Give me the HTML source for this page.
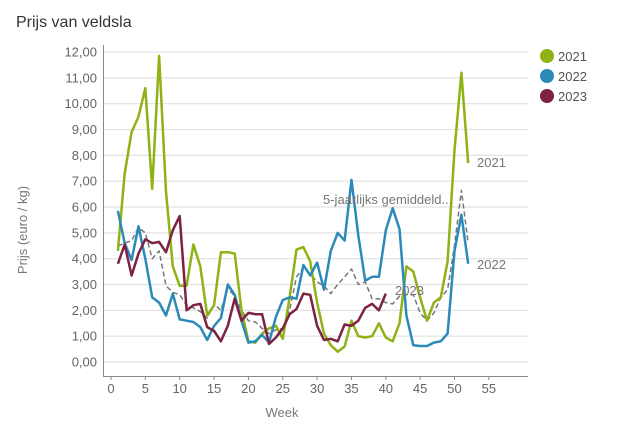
<!DOCTYPE html>
<html><head><meta charset="utf-8"><style>
body{margin:0;background:#fff;font-family:"Liberation Sans",sans-serif}
svg text{font-family:"Liberation Sans",sans-serif}
</style></head><body>
<svg id="s" width="626" height="438" xmlns="http://www.w3.org/2000/svg">
<rect width="626" height="438" fill="#fff"/>
<text x="16" y="27" font-size="16" fill="#333">Prijs van veldsla</text>
<g id="grid"></g>
<line x1="103.5" y1="45" x2="103.5" y2="376" stroke="#888" stroke-width="1"/>
<line x1="103" y1="376.5" x2="528" y2="376.5" stroke="#888" stroke-width="1"/>
<text transform="translate(27,230) rotate(-90)" text-anchor="middle" font-size="13" fill="#777">Prijs (euro / kg)</text>
<text x="282" y="417" text-anchor="middle" font-size="13" fill="#777">Week</text>
<g id="lines"></g>
<text x="477" y="167" font-size="13" fill="#777">2021</text>
<text x="477" y="269" font-size="13" fill="#777">2022</text>
<text x="395" y="295" font-size="13" fill="#777">2023</text>
<text x="323" y="204" font-size="13" fill="#777">5-jaarlijks gemiddeld...</text>
<circle cx="547" cy="56" r="7" fill="#8fb214"/><text x="558" y="61" font-size="13" fill="#555">2021</text>
<circle cx="547" cy="76" r="7" fill="#2b8ab8"/><text x="558" y="81" font-size="13" fill="#555">2022</text>
<circle cx="547" cy="96" r="7" fill="#7d2240"/><text x="558" y="101" font-size="13" fill="#555">2023</text>
</svg>
<script>
var NS="http://www.w3.org/2000/svg";
function X(w){return 111+w*6.87}
function Y(v){return 362-v*25.83}
var g=document.getElementById('grid'),h='';
for(var i=0;i<=12;i++){var y=Y(i);h+='<line x1="104" x2="528" y1="'+y+'" y2="'+y+'" stroke="#e2e2e2" stroke-width="1.2"/>';
h+='<text x="97" y="'+(y+4.5)+'" text-anchor="end" font-size="13" fill="#666">'+i+',00</text>';}
for(var w=0;w<=55;w+=5){h+='<line x1="'+X(w)+'" x2="'+X(w)+'" y1="376" y2="380" stroke="#888"/>';h+='<text x="'+X(w)+'" y="393" text-anchor="middle" font-size="13" fill="#666">'+w+'</text>';}
g.innerHTML=h;
var d21=[4.3,7.3,8.9,9.5,10.6,6.7,11.85,6.6,3.7,2.95,2.95,4.55,3.7,1.8,2.2,4.25,4.25,4.2,2.0,0.8,0.75,1.1,1.3,1.4,0.9,2.5,4.35,4.45,3.9,2.3,1.1,0.65,0.4,0.6,1.6,1.0,0.95,1.0,1.5,0.95,0.8,1.5,3.7,3.5,2.5,1.6,2.3,2.5,3.9,8.2,11.2,7.7];
var d22=[5.85,4.6,3.95,5.25,4.0,2.5,2.3,1.8,2.65,1.65,1.6,1.55,1.35,0.85,1.4,1.7,3.0,2.6,1.6,0.75,0.8,1.05,0.75,1.75,2.4,2.5,2.45,3.75,3.35,3.85,2.8,4.3,5.0,4.7,7.05,4.9,3.15,3.3,3.3,5.1,5.95,5.15,1.8,0.65,0.62,0.62,0.75,0.8,1.1,4.3,5.7,3.8];
var d23=[3.8,4.55,3.35,4.2,4.75,4.6,4.65,4.25,5.1,5.65,2.0,2.2,2.25,1.35,1.2,0.8,1.4,2.45,1.6,1.9,1.85,1.85,0.7,0.95,1.3,1.85,2.05,2.65,2.6,1.4,0.85,0.9,0.8,1.45,1.4,1.6,2.1,2.25,2.0,2.65];
var dav=[4.5,4.6,4.7,5.2,5.0,4.0,4.3,2.95,2.7,2.6,2.2,2.1,1.95,1.7,2.25,2.0,2.85,2.55,2.0,1.6,1.55,1.3,1.1,1.25,1.3,2.0,3.3,3.65,3.4,3.1,2.95,2.65,3.0,3.3,3.6,3.0,3.1,2.45,2.45,2.3,2.25,2.55,2.6,2.6,1.9,1.6,1.9,2.5,2.8,4.5,6.65,4.6];
function pl(d,c,wd,dash){return '<polyline fill="none" stroke="'+c+'" stroke-width="'+wd+'" stroke-linejoin="round" '+(dash?'stroke-dasharray="5,3" ':'')+'points="'+d.map(function(v,i){return X(i+1).toFixed(1)+','+Y(v).toFixed(1)}).join(' ')+'"/>';}
document.getElementById('lines').innerHTML=pl(dav,'#777',1.5,1)+pl(d21,'#8fb214',2.5)+pl(d22,'#2b8ab8',2.5)+pl(d23,'#7d2240',2.5);
</script>
</body></html>
